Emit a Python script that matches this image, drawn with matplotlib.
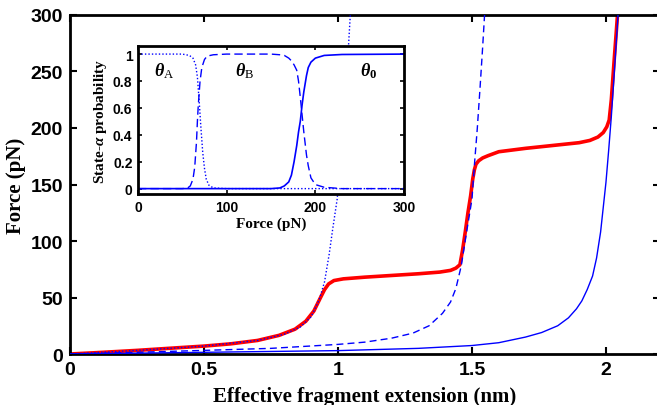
import matplotlib
matplotlib.use("Agg")
import matplotlib.pyplot as plt

plt.rcParams["mathtext.fontset"] = "custom"
plt.rcParams["mathtext.it"] = "Liberation Serif:italic:bold"
plt.rcParams["mathtext.rm"] = "Liberation Serif"
plt.rcParams["mathtext.bf"] = "Liberation Serif:bold"

# main panel: force vs extension
x_mix = [0, 0.1, 0.25, 0.4, 0.5, 0.6, 0.7, 0.78, 0.84, 0.88, 0.91, 0.935, 0.95, 0.965,
         0.985, 1.02, 1.1, 1.2, 1.3, 1.38, 1.42, 1.44, 1.455, 1.465, 1.475, 1.485, 1.495,
         1.503, 1.509, 1.515, 1.525, 1.54, 1.56, 1.6, 1.7, 1.8, 1.9, 1.94, 1.97, 1.99,
         2.003, 2.012, 2.02, 2.03, 2.04, 2.046]
f_mix = [0, 1.2, 3.2, 5.5, 7, 9, 12, 16.5, 22, 29, 38, 50, 57, 62,
         65, 66.5, 68, 69.5, 71, 72.5, 74, 76, 79, 92, 108, 125, 140,
         155, 163, 168, 171, 173.5, 175.5, 179, 182, 184.5, 187, 189, 192, 196,
         201, 207, 225, 258, 290, 310]

x_A = [0, 0.25, 0.5, 0.7, 0.8, 0.86, 0.9, 0.93, 0.95, 0.967, 0.98, 0.997, 1.01, 1.025, 1.035, 1.046]
f_A = [0, 3.2, 7, 12, 17.5, 24, 33, 48, 64, 88, 110, 137, 170, 215, 255, 300]

x_B = [0, 0.25, 0.5, 0.75, 1.0, 1.1, 1.2, 1.28, 1.34, 1.39, 1.42, 1.44, 1.46, 1.48,
       1.5, 1.51, 1.52, 1.53, 1.54, 1.547]
f_B = [0, 1.5, 3.2, 5, 8.5, 10.5, 14, 18.5, 25, 36, 46, 58, 78, 108,
       137, 170, 200, 235, 272, 300]

x_0 = [0, 0.5, 1.0, 1.3, 1.5, 1.6, 1.7, 1.76, 1.82, 1.86, 1.89, 1.91, 1.93, 1.95,
       1.965, 1.98, 1.99, 2.0, 2.01, 2.02, 2.03, 2.045]
f_0 = [0, 1.5, 3, 5, 7.5, 10, 15, 19, 25, 32, 40, 47, 57, 69,
       85, 108, 130, 152, 180, 210, 245, 300]

# inset: state probabilities vs force
F_A = [0, 50, 58, 62, 65, 67, 69, 71, 73, 75, 77, 80, 85, 100, 300]
p_A = [1, 1, 0.99, 0.97, 0.92, 0.83, 0.65, 0.45, 0.27, 0.15, 0.07, 0.025, 0.005, 0, 0]

F_B = [0, 50, 56, 59, 62, 64, 66, 67, 68, 70, 72, 75, 78, 85, 100, 150, 160, 165, 170,
       173, 176, 179, 181, 183, 185, 187, 190, 192, 195, 200, 210, 230, 300]
p_B = [0, 0, 0.005, 0.02, 0.07, 0.16, 0.35, 0.5, 0.62, 0.8, 0.9, 0.96, 0.985, 0.995, 1, 1,
       0.995, 0.99, 0.97, 0.95, 0.92, 0.88, 0.8, 0.68, 0.55, 0.42, 0.25, 0.17, 0.08, 0.03,
       0.01, 0, 0]

F_0 = [0, 150, 160, 165, 170, 173, 176, 179, 181, 183, 185, 187, 190, 192, 195, 200,
       210, 230, 300]
p_0 = [0, 0, 0.005, 0.02, 0.05, 0.1, 0.2, 0.32, 0.42, 0.5, 0.62, 0.72, 0.84, 0.9, 0.94,
       0.97, 0.99, 0.997, 1]

blue = "#0000ff"
sans = "Liberation Sans"
serif = "Liberation Serif"

fig = plt.figure(figsize=(6.57, 4.06), dpi=100)
ax = fig.add_axes([0.1065, 0.1256, 0.8974, 0.835])

ax.plot(x_mix, f_mix, color="red", lw=2.6, zorder=2)
ax.plot(x_A, f_A, color=blue, lw=1.0, ls=(0, (1, 1.5)), zorder=3)
ax.plot(x_B, f_B, color=blue, lw=1.0, ls=(0, (5, 3)), zorder=3)
ax.plot(x_0, f_0, color=blue, lw=1.0, zorder=3)

ax.set_xlim(0, 2.2)
ax.set_ylim(0, 300)
ax.set_xticks([0, 0.5, 1, 1.5, 2])
ax.set_xticklabels(["0", "0.5", "1", "1.5", "2"])
ax.set_yticks(range(0, 301, 50))
ax.tick_params(direction="in", length=5, width=1.5, top=True, right=True,
               labelsize=14, pad=5)
for lab in ax.get_xticklabels() + ax.get_yticklabels():
    lab.set_fontfamily(sans)
    lab.set_fontweight("bold")
for s in ax.spines.values():
    s.set_linewidth(2)
ax.set_xlabel("Effective fragment extension (nm)", fontfamily=serif,
              fontweight="bold", fontsize=15, labelpad=6)
ax.set_ylabel("Force (pN)", fontfamily=serif, fontweight="bold", fontsize=15,
              labelpad=3)

ins = fig.add_axes([0.210, 0.5197, 0.405, 0.3645])
ins.plot(F_A, p_A, color=blue, lw=1.0, ls=(0, (1, 1.5)))
ins.plot(F_B, p_B, color=blue, lw=1.0, ls=(0, (6, 3)))
ins.plot(F_0, p_0, color=blue, lw=1.2)
ins.set_xlim(0, 300)
ins.set_ylim(-0.04, 1.06)
ins.set_xticks([0, 100, 200, 300])
ins.set_yticks([0, 0.2, 0.4, 0.6, 0.8, 1])
ins.set_yticklabels(["0", "0.2", "0.4", "0.6", "0.8", "1"])
ins.tick_params(direction="in", length=3, width=1.2, top=True, right=True,
                labelsize=10, pad=4)
for lab in ins.get_xticklabels() + ins.get_yticklabels():
    lab.set_fontfamily(sans)
    lab.set_fontweight("bold")
for s in ins.spines.values():
    s.set_linewidth(2)
ins.set_xlabel("Force (pN)", fontfamily=serif, fontweight="bold", fontsize=11,
               labelpad=2)
ins.set_ylabel(r"State-$\alpha$ probability", fontfamily=serif, fontweight="bold",
               fontsize=11, labelpad=3)
ins.text(30, 0.88, r"$\theta_\mathrm{A}$", fontsize=13, ha="center", va="center")
ins.text(120, 0.88, r"$\theta_\mathrm{B}$", fontsize=13, ha="center", va="center")
ins.text(260, 0.88, r"$\theta_\mathbf{0}$", fontsize=13, ha="center", va="center")

fig.savefig("out.png", dpi=100)
